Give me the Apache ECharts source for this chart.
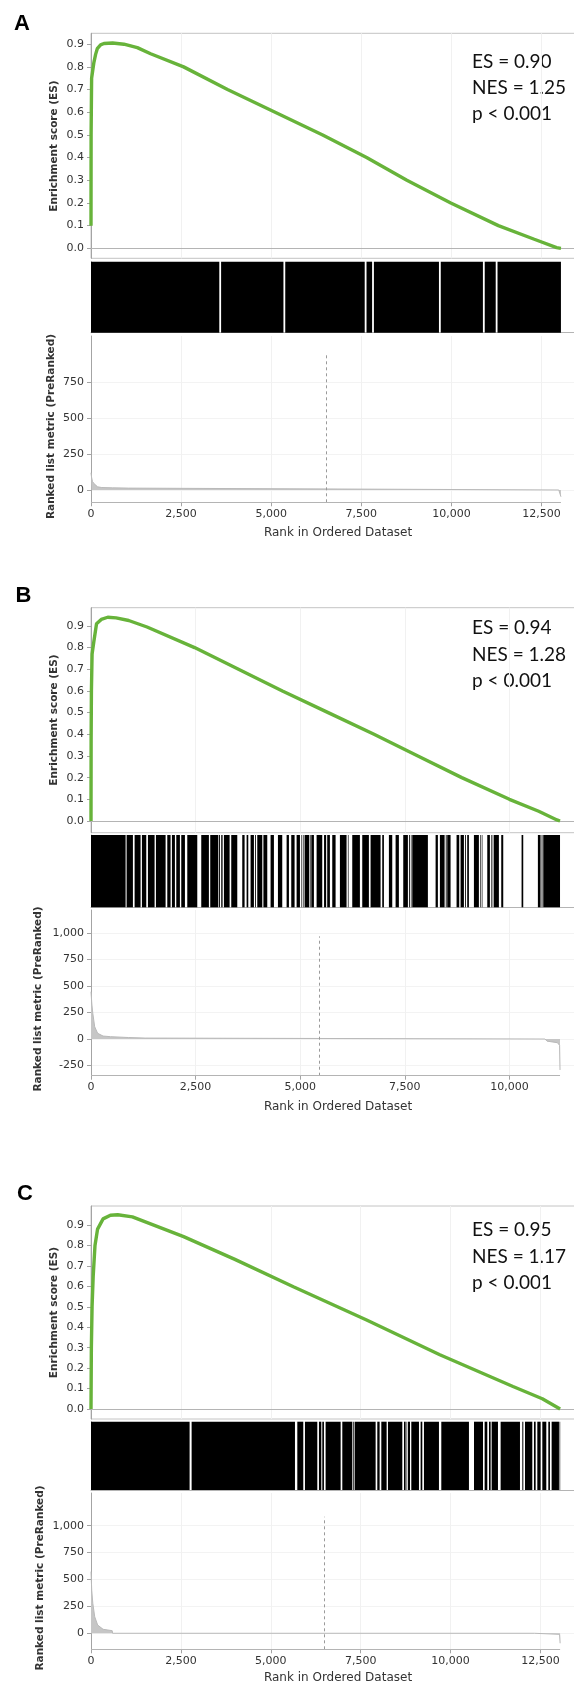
<!DOCTYPE html>
<html><head><meta charset="utf-8">
<script src="https://cdn.jsdelivr.net/npm/echarts@6/dist/echarts.min.js"></script>
<style>html,body{margin:0;padding:0;background:#fff}#c{width:574px;height:1686px}</style>
</head><body><div id="c"></div>
<script>
// ---------------- DATA ----------------
const panelLabels = ['A', 'B', 'C'];
const statsA = ['ES = 0.90', 'NES = 1.25', 'p < 0.001'];
const statsB = ['ES = 0.94', 'NES = 1.28', 'p < 0.001'];
const statsC = ['ES = 0.95', 'NES = 1.17', 'p < 0.001'];
const esAxisTitle = 'Enrichment score (ES)';
const metricAxisTitle = 'Ranked list metric (PreRanked)';
const rankAxisTitle = 'Rank in Ordered Dataset';
const datasetSize = [13040, 11210, 13045];

// running enrichment score [rank, ES]
const esA = [[0,0.10],[3,0.50],[17,0.75],[44,0.78],[81,0.82],[128,0.855],[174,0.88],[266,0.897],[359,0.903],[600,0.905],[914,0.90],[1285,0.885],[1654,0.858],[2570,0.80],[3788,0.70],[5109,0.60],[6429,0.50],[7647,0.40],[8765,0.30],[9983,0.20],[11304,0.10],[12300,0.04],[12920,0.003],[13040,0.0]];
const esB = [[0,0],[3,0.37],[10,0.60],[26,0.77],[70,0.83],[132,0.91],[245,0.93],[400,0.94],[600,0.937],[901,0.925],[1339,0.895],[2476,0.80],[3525,0.70],[4575,0.60],[5669,0.50],[6764,0.40],[7813,0.30],[8862,0.20],[10000,0.10],[10700,0.045],[11137,0.005],[11210,0]];
const esC = [[0,0],[10,0.30],[30,0.50],[61,0.65],[111,0.80],[183,0.88],[336,0.93],[540,0.948],[743,0.95],[1151,0.94],[2575,0.843],[4001,0.732],[5628,0.598],[7664,0.435],[9700,0.265],[11735,0.11],[12550,0.05],[13045,0]];

// gene-set hit stretches [startRank, endRank]
const hitsA = [[0,3560],[3610,5340],[5390,7595],[7645,7800],[7850,9655],[9705,10875],[10925,11230],[11280,13040]];
const hitsB = [[0,827],[851,1002],[1042,1185],[1217,1321],[1361,1520],[1552,1783],[1823,1902],[1934,2006],[2038,2125],[2157,2245],[2301,2540],[2635,2818],[2850,3042],[3058,3081],[3113,3145],[3177,3313],[3352,3496],[3615,3671],[3719,3759],[3814,3894],[3920,3940],[3974,4093],[4110,4120],[4133,4213],[4292,4372],[4468,4571],[4675,4731],[4786,4866],[4914,4994],[5030,5045],[5065,5080],[5105,5217],[5240,5250],[5265,5328],[5392,5527],[5570,5620],[5646,5710],[5766,5846],[5949,6108],[6140,6155],[6244,6427],[6483,6642],[6682,6921],[6961,7001],[7120,7200],[7280,7359],[7463,7574],[7600,7620],[7645,7660],[7678,8052],[8236,8291],[8339,8451],[8480,8500],[8514,8594],[8737,8801],[8833,8913],[8940,8960],[8992,9032],[9152,9271],[9300,9315],[9340,9355],[9471,9534],[9560,9575],[9600,9615],[9630,9749],[9805,9853],[10291,10331],[10681,10745],[10770,10790],[10809,11210]];
const hitsC = [[0,2742],[2798,5672],[5737,5903],[5950,6293],[6339,6404],[6432,6478],[6524,6942],[6988,7266],[7285,7305],[7331,7915],[7961,8026],[8073,8221],[8258,8657],[8703,8749],[8775,8790],[8814,8870],[8907,9120],[9166,9213],[9259,9676],[9741,10510],[10650,10900],[10946,11020],[11067,11113],[11141,11317],[11391,11929],[11994,12022],[12068,12272],[12318,12365],[12411,12504],[12550,12661],[12717,12763],[12809,13013],[13030,13045]];

// ranked list metric [rank, value]
const metricA = [[0,120],[15,90],[40,60],[81,45],[183,22],[300,17],[600,15],[1040,13],[1045,0],[12980,0],[13010,-10],[13040,-47]];
const metricB = [[0,446],[20,330],[43,242],[88,116],[158,54],[289,28],[464,22],[900,14],[1295,9],[1300,0],[10850,0],[10900,-20],[11150,-35],[11200,-60],[11210,-292]];
const metricC = [[0,573],[20,400],[50,279],[103,154],[184,77],[336,37],[590,24],[600,0],[12330,0],[12340,-8],[13030,-10],[13045,-93]];

// zero-cross marker [rank, top value]
const zeroCross = [[6531,957],[5449,968],[6474,1084]];

// tick labels
const esTicks = [0,0.1,0.2,0.3,0.4,0.5,0.6,0.7,0.8,0.9];
const metricTicksA = [0,250,500,750];
const metricTicksB = [-250,0,250,500,750,1000];
const metricTicksC = [0,250,500,750,1000];
const rankTicksA = [0,2500,5000,7500,10000,12500];
const rankTicksB = [0,2500,5000,7500,10000];
const rankTicksC = [0,2500,5000,7500,10000,12500];

// ---------------- LAYOUT / STYLE ----------------
const L = 91, W = 484;
const layouts = [
  {esTop:33.3, esH:225, hitTop:261.7, hitH:71, rTop:336, rH:166.3, esMin:-0.044, esMax:0.948, rMin:-86, rMax:1075, xMax:13430,
   letter:[22,24], statY:[61.5,88,114], esTitleY:146, rTitle:[51.2,426.5], xTitleY:532.7},
  {esTop:607.7, esH:225, hitTop:835, hitH:72.3, rTop:910, rH:165.7, esMin:-0.054, esMax:0.984, rMin:-346, rMax:1217, xMax:11568,
   letter:[23.4,596], statY:[628.3,654.8,681], esTitleY:720, rTitle:[38.4,999], xTitleY:1106.7},
  {esTop:1206, esH:213, hitTop:1421.7, hitH:68.3, rTop:1493, rH:156.3, esMin:-0.049, esMax:0.993, rMin:-149, rMax:1304, xMax:13459,
   letter:[25,1194], statY:[1230,1256.7,1283], esTitleY:1312.5, rTitle:[40.3,1578], xTitleY:1678.3}
];
const panels = [
  {es: esA, hits: hitsA, metric: metricA, stats: statsA, mt: metricTicksA, rt: rankTicksA},
  {es: esB, hits: hitsB, metric: metricB, stats: statsB, mt: metricTicksB, rt: rankTicksB},
  {es: esC, hits: hitsC, metric: metricC, stats: statsC, mt: metricTicksC, rt: rankTicksC}
];

const AX = '#a4a4a4', GREEN = '#67b33a', TXT = '#333';
const FONT = 'DejaVu Sans';
const fmtThousands = v => String(v).replace(/\B(?=(\d{3})+(?!\d))/g, ',');

const grid = [], xAxis = [], yAxis = [], series = [], graphic = [];

panels.forEach((p, i) => {
  const g = layouts[i];
  const base = i * 3;
  const N = datasetSize[i];
  grid.push({left:L, top:g.esTop, width:W, height:g.esH, show:true, borderColor:'#c4c4c4', borderWidth:1, backgroundColor:'transparent', outerBoundsMode:'none'});
  grid.push({left:L, top:g.hitTop, width:W, height:g.hitH, outerBoundsMode:'none'});
  grid.push({left:L, top:g.rTop, width:W, height:g.rH, outerBoundsMode:'none'});

  xAxis.push({type:'value', gridIndex:base, min:0, max:g.xMax, interval:2500,
    axisLine:{show:true, onZero:true, lineStyle:{color:'#b4b4b4', width:1}},
    axisTick:{show:false}, axisLabel:{show:false},
    splitLine:{show:true, lineStyle:{color:'#f1f1f1', width:1}}});
  yAxis.push({type:'value', gridIndex:base, min:g.esMin, max:g.esMax,
    axisLine:{show:true, lineStyle:{color:AX}},
    axisTick:{show:true, length:4, customValues:esTicks, lineStyle:{color:AX}},
    axisLabel:{customValues:esTicks, formatter:v => v.toFixed(1), fontSize:11, color:TXT, fontFamily:FONT, margin:7},
    splitLine:{show:false}});

  xAxis.push({type:'value', gridIndex:base+1, min:0, max:g.xMax,
    axisLine:{show:true, onZero:false, lineStyle:{color:'#b4b4b4'}},
    axisTick:{show:false}, axisLabel:{show:false}, splitLine:{show:false}});
  yAxis.push({type:'value', gridIndex:base+1, min:0, max:1,
    axisLine:{show:true, lineStyle:{color:AX}}, axisTick:{show:false}, axisLabel:{show:false}, splitLine:{show:false}});

  xAxis.push({type:'value', gridIndex:base+2, min:0, max:g.xMax, interval:2500,
    axisLine:{show:false, onZero:false},
    axisTick:{show:true, length:4, customValues:p.rt, lineStyle:{color:AX}},
    axisLabel:{customValues:p.rt, formatter:fmtThousands, fontSize:11, color:TXT, fontFamily:FONT, margin:6},
    splitLine:{show:true, lineStyle:{color:'#f1f1f1'}}});
  yAxis.push({type:'value', gridIndex:base+2, min:g.rMin, max:g.rMax,
    axisLine:{show:true, lineStyle:{color:AX}},
    axisTick:{show:true, length:4, customValues:p.mt, lineStyle:{color:AX}},
    axisLabel:{customValues:p.mt, formatter:fmtThousands, fontSize:11, color:TXT, fontFamily:FONT, margin:7},
    splitLine:{show:true, lineStyle:{color:'#f3f3f3'}}});

  series.push({type:'line', xAxisIndex:base, yAxisIndex:base, data:p.es, showSymbol:false, silent:true,
    lineStyle:{color:GREEN, width:3.4}, z:5, animation:false});
  series.push({type:'custom', xAxisIndex:base+1, yAxisIndex:base+1, data:p.hits, encode:{x:[0,1]}, silent:true, animation:false,
    renderItem:(params, api) => {
      const s = api.coord([api.value(0), 1]);
      const e = api.coord([api.value(1), 0]);
      return {type:'rect', shape:{x:s[0], y:s[1], width:Math.max(e[0]-s[0], 0.6), height:e[1]-s[1]}, style:{fill:'#000'}};
    }});
  series.push({type:'line', xAxisIndex:base+2, yAxisIndex:base+2, data:p.metric, showSymbol:false, silent:true, animation:false,
    lineStyle:{color:'#b9b9b9', width:1}, areaStyle:{color:'#c6c6c6', opacity:1},
    markLine:{silent:true, symbol:'none', animation:false, label:{show:false},
      data:[
        [{coord:[zeroCross[i][0], g.rMin], lineStyle:{color:'#9a9a9a', type:[3,3], width:1}}, {coord:[zeroCross[i][0], zeroCross[i][1]]}],
        [{coord:[0, g.rMin], lineStyle:{color:'#b4b4b4', type:'solid', width:1.2}}, {coord:[N, g.rMin]}]
      ]}});

  graphic.push({type:'text', x:g.letter[0], y:g.letter[1], style:{text:panelLabels[i], font:'bold 22px "Liberation Sans", Arial', fill:'#000', textAlign:'center', textVerticalAlign:'middle'}});
  p.stats.forEach((t, k) => graphic.push({type:'text', x:472, y:g.statY[k],
    style:{text:t, font:'19px Lato, "Open Sans", sans-serif', fill:'#111', textAlign:'left', textVerticalAlign:'middle'}}));
  graphic.push({type:'text', x:54.2, y:g.esTitleY, rotation:Math.PI/2,
    style:{text:esAxisTitle, font:'bold 10.5px "DejaVu Sans"', fill:TXT, textAlign:'center', textVerticalAlign:'middle'}});
  graphic.push({type:'text', x:g.rTitle[0], y:g.rTitle[1], rotation:Math.PI/2,
    style:{text:metricAxisTitle, font:'bold 10.5px "DejaVu Sans"', fill:TXT, textAlign:'center', textVerticalAlign:'middle'}});
  graphic.push({type:'text', x:338, y:g.xTitleY,
    style:{text:rankAxisTitle, font:'12px "DejaVu Sans"', fill:TXT, textAlign:'center', textVerticalAlign:'middle'}});
});

const chart = echarts.init(document.getElementById('c'), null, {renderer:'canvas'});
chart.setOption({backgroundColor:'#fff', animation:false, grid, xAxis, yAxis, series, graphic});
</script></body></html>
